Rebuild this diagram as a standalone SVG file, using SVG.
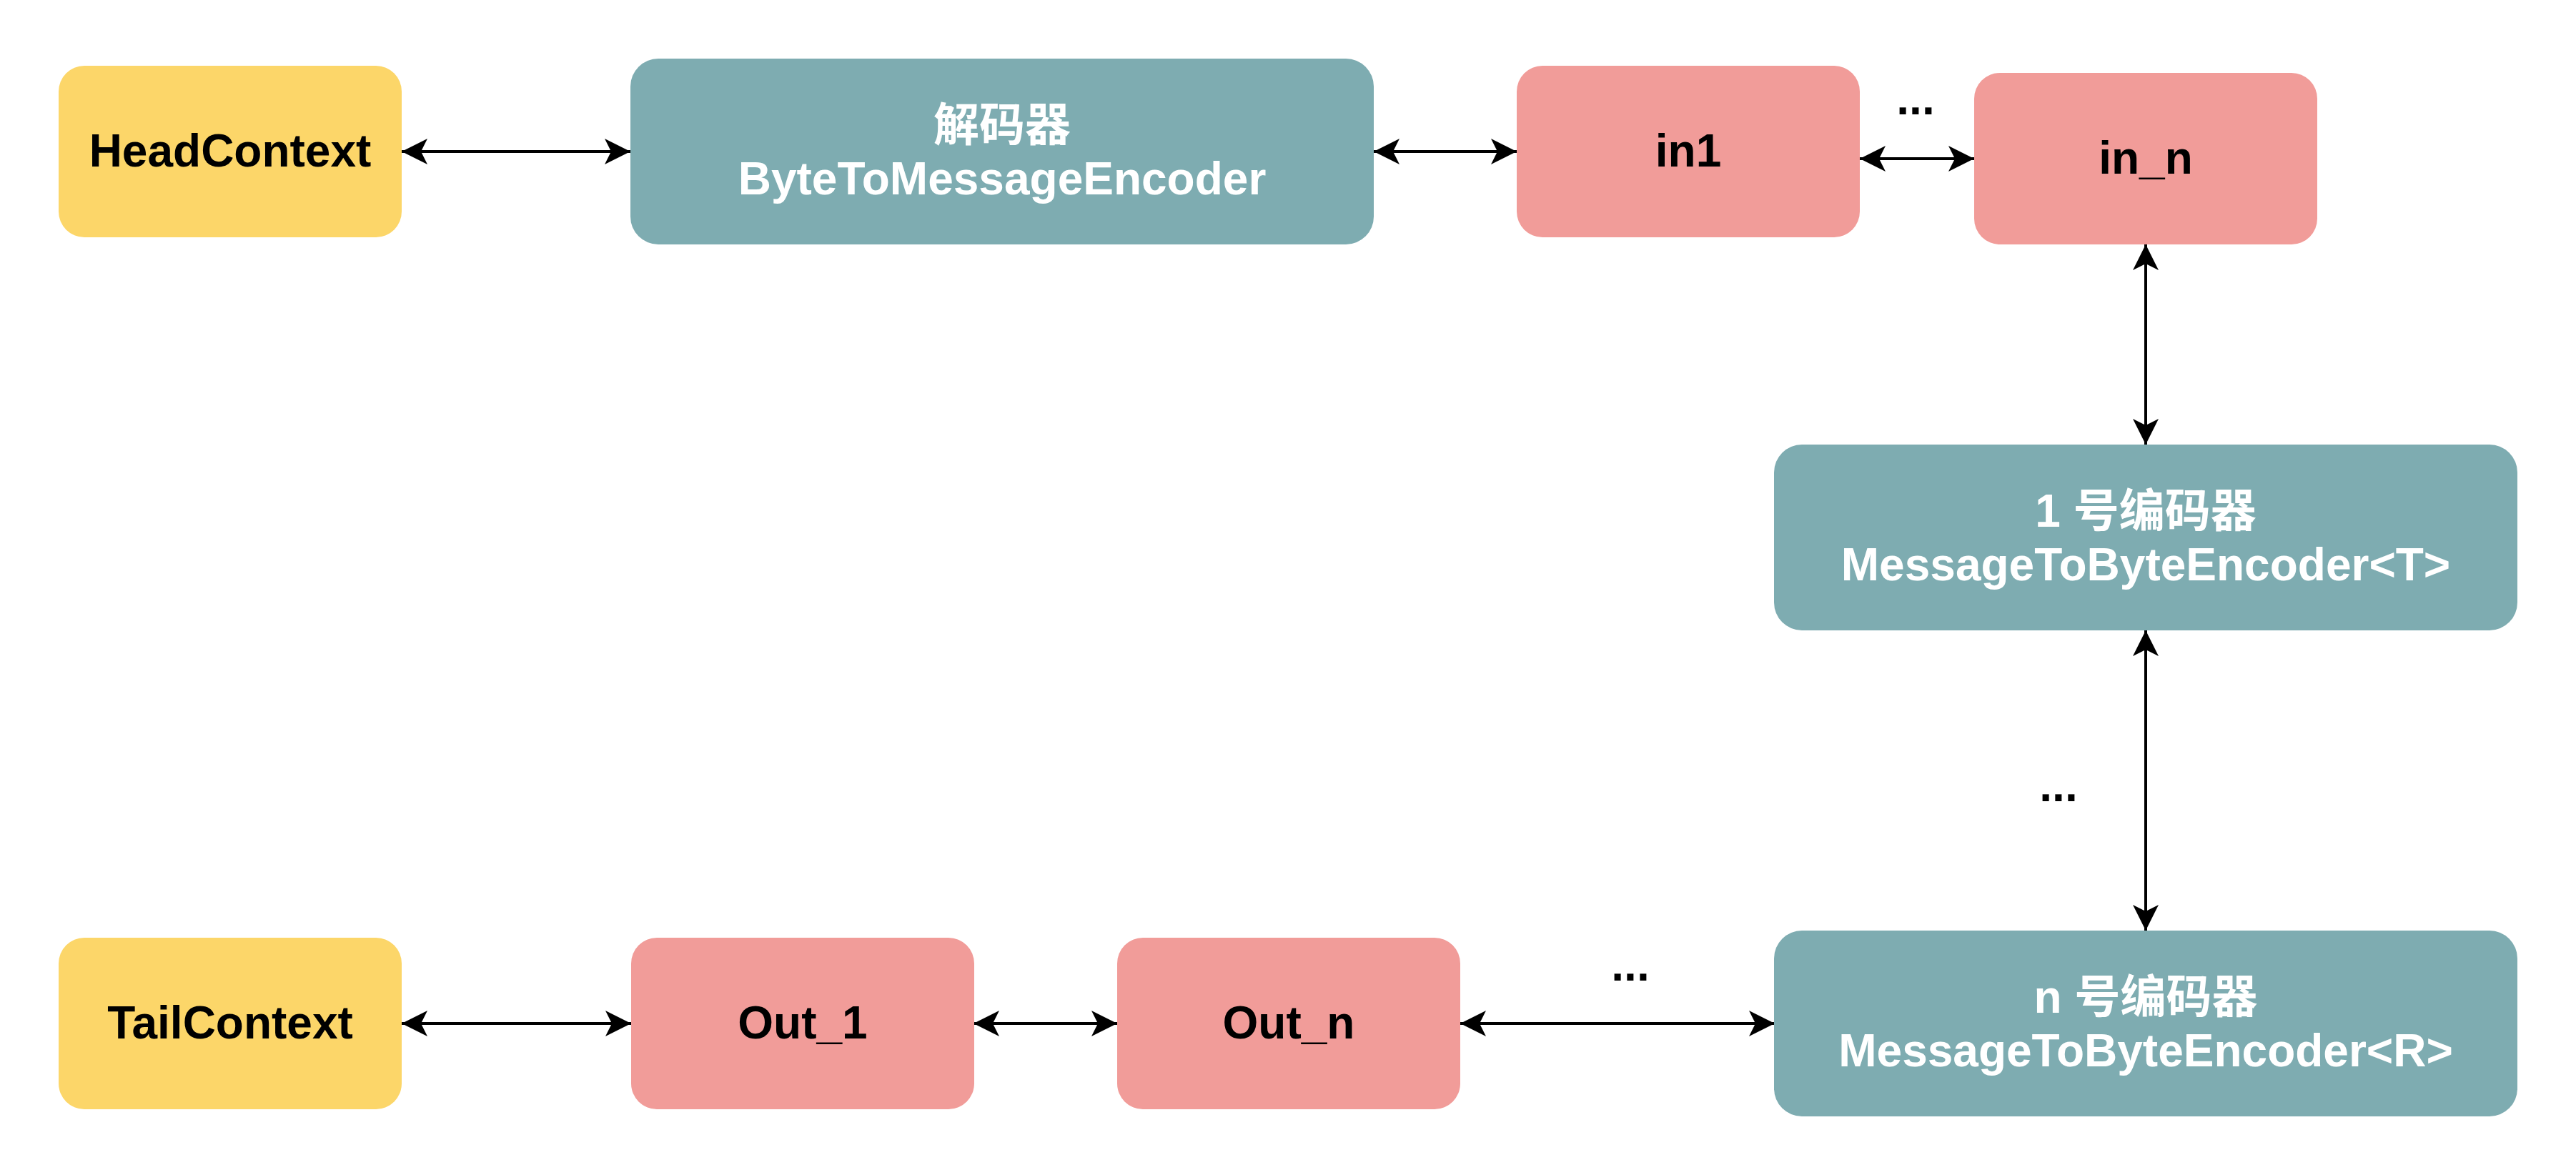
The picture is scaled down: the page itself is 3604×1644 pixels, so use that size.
<svg xmlns="http://www.w3.org/2000/svg" width="3604" height="1644" viewBox="0 0 3604 1644">
<style>
text{font-family:"Liberation Sans","Noto Sans CJK SC",Arial,sans-serif;font-weight:bold;font-size:64px;text-anchor:middle}
.yellow{fill:#FCD669}
.pink{fill:#F19C99}
.teal{fill:#7EACB1}
.dark{fill:#000}
.light{fill:#fff}
.conn{stroke:#000;stroke-width:4;fill:none}
</style>
<defs>
<marker id="ah" markerUnits="userSpaceOnUse" viewBox="-38 -20 40 40" refX="0" refY="0" markerWidth="40" markerHeight="40" orient="auto-start-reverse">
<path d="M0,0 L-36,-18 L-27,0 L-36,18 Z" fill="#000"/>
</marker>
</defs>
<rect width="3604" height="1644" fill="#fff"/>
<g id="connectors">
<line class="conn" x1="562" y1="212" x2="882" y2="212" marker-start="url(#ah)" marker-end="url(#ah)"/>
<line class="conn" x1="1922" y1="212" x2="2122" y2="212" marker-start="url(#ah)" marker-end="url(#ah)"/>
<line class="conn" x1="2602" y1="222" x2="2762" y2="222" marker-start="url(#ah)" marker-end="url(#ah)"/>
<line class="conn" x1="3002" y1="342" x2="3002" y2="622" marker-start="url(#ah)" marker-end="url(#ah)"/>
<line class="conn" x1="3002" y1="882" x2="3002" y2="1302" marker-start="url(#ah)" marker-end="url(#ah)"/>
<line class="conn" x1="562" y1="1432" x2="883" y2="1432" marker-start="url(#ah)" marker-end="url(#ah)"/>
<line class="conn" x1="1362" y1="1432" x2="1563" y2="1432" marker-start="url(#ah)" marker-end="url(#ah)"/>
<line class="conn" x1="2043" y1="1432" x2="2483" y2="1432" marker-start="url(#ah)" marker-end="url(#ah)"/>
<text class="dark" x="2680" y="160">...</text>
<text class="dark" x="2880" y="1121">...</text>
<text class="dark" x="2281" y="1372">...</text>
</g>
<g id="headcontext">
<rect class="yellow" x="82" y="92" width="480" height="240" rx="36"/>
<text class="dark" x="322" y="233">HeadContext</text>
</g>
<g id="decoder">
<rect class="teal" x="882" y="82" width="1040" height="260" rx="39"/>
<text class="light" x="1402" y="197">解码器</text>
<text class="light" x="1402" y="272">ByteToMessageEncoder</text>
</g>
<g id="in1">
<rect class="pink" x="2122" y="92" width="480" height="240" rx="36"/>
<text class="dark" x="2362" y="233">in1</text>
</g>
<g id="in_n">
<rect class="pink" x="2762" y="102" width="480" height="240" rx="36"/>
<text class="dark" x="3002" y="243">in_n</text>
</g>
<g id="encoder1">
<rect class="teal" x="2482" y="622" width="1040" height="260" rx="39"/>
<text class="light" x="3002" y="737">1 号编码器</text>
<text class="light" x="3002" y="812">MessageToByteEncoder&lt;T&gt;</text>
</g>
<g id="encoderN">
<rect class="teal" x="2482" y="1302" width="1040" height="260" rx="39"/>
<text class="light" x="3002" y="1417">n 号编码器</text>
<text class="light" x="3002" y="1492">MessageToByteEncoder&lt;R&gt;</text>
</g>
<g id="tailcontext">
<rect class="yellow" x="82" y="1312" width="480" height="240" rx="36"/>
<text class="dark" x="322" y="1453">TailContext</text>
</g>
<g id="out_1">
<rect class="pink" x="883" y="1312" width="480" height="240" rx="36"/>
<text class="dark" x="1123" y="1453">Out_1</text>
</g>
<g id="out_n">
<rect class="pink" x="1563" y="1312" width="480" height="240" rx="36"/>
<text class="dark" x="1803" y="1453">Out_n</text>
</g>
</svg>
